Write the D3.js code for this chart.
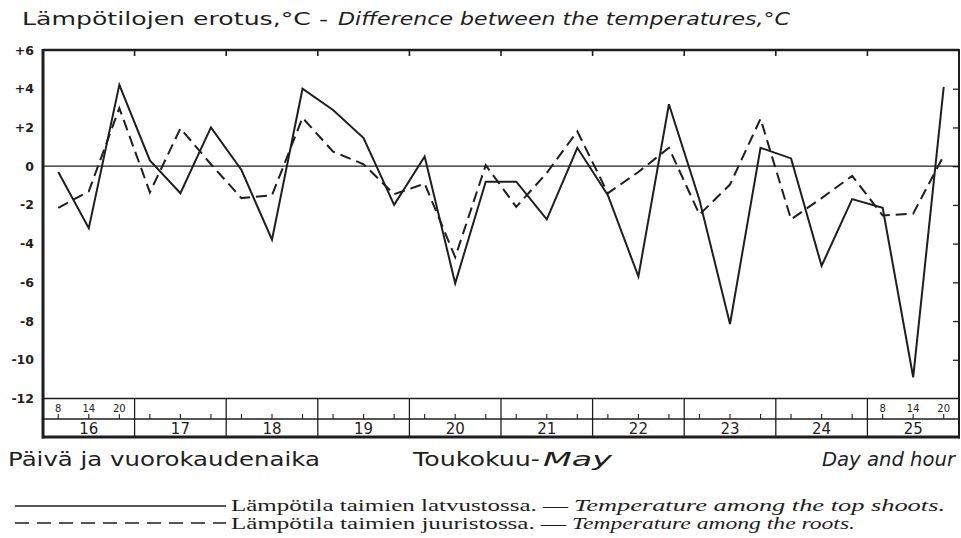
<!DOCTYPE html>
<html><head><meta charset="utf-8">
<script src="https://cdn.jsdelivr.net/npm/d3@7"></script>
<style>body{margin:0;background:#fff}svg{display:block}</style>
</head><body>
<svg id="c" width="961" height="538"></svg>
<script>
const days = ["16","17","18","19","20","21","22","23","24","25"];
const hours = ["8","14","20"];
const yTicks = [6,4,2,0,-2,-4,-6,-8,-10,-12];
const yTickLabels = ["+6","+4","+2","0","-2","-4","-6","-8","-10","-12"];
// Temperature among the top shoots (solid)
const topShoots = [-0.3,-3.2,4.2, 0.3,-1.4,2.0, -0.2,-3.8,4.0, 2.9,1.45,-2.0, 0.5,-6.05,-0.8, -0.8,-2.75,0.95, -1.5,-5.7,3.2, -1.75,-8.15,0.95, 0.4,-5.15,-1.7, -2.15,-10.9,4.1];
// Temperature among the roots (dashed)
const roots = [-2.15,-1.3,3.0, -1.35,1.95,0.1, -1.65,-1.5,2.5, 0.75,0.1,-1.45, -0.9,-4.7,0.05, -2.1,-0.35,1.8, -1.4,-0.3,0.95, -2.5,-0.95,2.45, -2.75,-1.65,-0.5, -2.55,-2.45,0.55];

const ink = "#1e1e1e";
const svg = d3.select("#c");
const L = 43, R = 959, T = 50, B = 398.5, Hmid = 419, Bot = 437;

const keys = [];
days.forEach(d => hours.forEach(h => keys.push(d + "-" + h)));
const xDay = d3.scaleBand().domain(days).range([L, R]);
const x = d3.scalePoint().domain(keys).range([L, R]).padding(0.5);
const y = d3.scaleLinear().domain([-12, 6]).range([B, T]);

// zero line
svg.append("line").attr("x1", L).attr("x2", R).attr("y1", y(0)).attr("y2", y(0))
  .attr("stroke", ink).attr("stroke-width", 1.3);

// Y axis labels
const yAxis = d3.axisLeft(y).tickValues(yTicks).tickSize(0).tickPadding(9)
  .tickFormat((d, i) => yTickLabels[i]);
const ya = svg.append("g").attr("transform", `translate(${L},0)`).call(yAxis);
ya.select(".domain").remove();
ya.selectAll("text").attr("font-family", "DejaVu Sans").attr("font-size", 12.5)
  .attr("font-weight", "bold").attr("fill", ink);

// right-side ticks
const yr = d3.axisLeft(y).tickValues(yTicks.filter(v => v > -12 && v < 6)).tickSize(6).tickFormat("");
const yrg = svg.append("g").attr("transform", `translate(${R},0)`).call(yr);
yrg.select(".domain").remove();
yrg.selectAll("line").attr("stroke", ink).attr("stroke-width", 1.3);

// top ticks at day boundaries
const topT = days.slice(1).map(d => xDay(d));
svg.selectAll(".tt").data(topT).enter().append("line")
  .attr("x1", d => d).attr("x2", d => d).attr("y1", T).attr("y2", T + 6)
  .attr("stroke", ink).attr("stroke-width", 1.6);

// bottom band: horizontal lines
svg.append("line").attr("x1", L).attr("x2", R).attr("y1", B).attr("y2", B).attr("stroke", ink).attr("stroke-width", 1.5);
svg.append("line").attr("x1", L).attr("x2", R).attr("y1", Hmid).attr("y2", Hmid).attr("stroke", ink).attr("stroke-width", 1.5);
// day boundaries
svg.selectAll(".db").data(days.slice(1)).enter().append("line")
  .attr("x1", d => xDay(d)).attr("x2", d => xDay(d)).attr("y1", B).attr("y2", Bot)
  .attr("stroke", ink).attr("stroke-width", 1.3);
// hour ticks
svg.selectAll(".ht").data(keys).enter().append("line")
  .attr("x1", d => x(d)).attr("x2", d => x(d)).attr("y1", Hmid - 5).attr("y2", Hmid)
  .attr("stroke", ink).attr("stroke-width", 1.1);
// hour labels on first and last day
const labelled = keys.filter(k => k.startsWith(days[0] + "-") || k.startsWith(days[days.length - 1] + "-"));
svg.selectAll(".hl").data(labelled).enter().append("text")
  .attr("x", d => x(d)).attr("y", Hmid - 7).attr("text-anchor", "middle")
  .attr("font-family", "DejaVu Sans").attr("font-size", 10).attr("fill", ink)
  .text(d => d.split("-")[1]);
// day labels
svg.selectAll(".dl").data(days).enter().append("text")
  .attr("x", d => xDay(d) + xDay.bandwidth() / 2).attr("y", Bot - 3).attr("text-anchor", "middle")
  .attr("font-family", "DejaVu Sans").attr("font-size", 15).attr("fill", ink)
  .text(d => d);

// frame
svg.append("line").attr("x1", L).attr("x2", R).attr("y1", T).attr("y2", T).attr("stroke", ink).attr("stroke-width", 2.4);
svg.append("line").attr("x1", L - 1).attr("x2", R + 1).attr("y1", Bot).attr("y2", Bot).attr("stroke", ink).attr("stroke-width", 3);
svg.append("line").attr("x1", L).attr("x2", L).attr("y1", T - 1).attr("y2", Bot + 1.5).attr("stroke", ink).attr("stroke-width", 3);
svg.append("line").attr("x1", R).attr("x2", R).attr("y1", T - 1).attr("y2", Bot + 1.5).attr("stroke", ink).attr("stroke-width", 2);

// series
const line = d3.line().x((d, i) => x(keys[i])).y(d => y(d));
svg.append("path").datum(roots).attr("d", line).attr("fill", "none")
  .attr("stroke", ink).attr("stroke-width", 2).attr("stroke-dasharray", "11,6").attr("stroke-linejoin", "miter");
svg.append("path").datum(topShoots).attr("d", line).attr("fill", "none")
  .attr("stroke", ink).attr("stroke-width", 2).attr("stroke-linejoin", "miter");

// texts
function txt(s, x0, x1, yb, size, family, italic) {
  svg.append("text").attr("x", x0).attr("y", yb).attr("font-family", family)
    .attr("font-size", size).attr("font-style", italic ? "italic" : "normal").attr("fill", ink)
    .attr("textLength", x1 - x0).attr("lengthAdjust", "spacingAndGlyphs").text(s);
}
const hand = "DejaVu Sans";
txt("Lämpötilojen erotus,°C -", 22, 328, 25, 18, hand, false);
txt("Difference between the temperatures,°C", 338, 790, 25, 17, hand, true);
txt("Päivä ja vuorokaudenaika", 8, 320, 466, 19, hand, false);
txt("Toukokuu-", 413, 540, 466, 19, hand, false);
txt("May", 543, 612, 466, 19, hand, true);
txt("Day and hour", 822, 955, 466, 19, hand, true);

// legend
const serif = "Liberation Serif";
svg.append("line").attr("x1", 15).attr("x2", 226).attr("y1", 506).attr("y2", 506).attr("stroke", ink).attr("stroke-width", 1.3);
svg.append("line").attr("x1", 15).attr("x2", 226).attr("y1", 523).attr("y2", 523).attr("stroke", ink).attr("stroke-width", 1.3).attr("stroke-dasharray", "14,8");
txt("Lämpötila taimien latvustossa. —", 231, 568, 511, 16, serif, false);
txt("Temperature among the top shoots.", 574, 945, 511, 16, serif, true);
txt("Lämpötila taimien juuristossa. —", 231, 566, 529, 16, serif, false);
txt("Temperature among the roots.", 572, 855, 529, 16, serif, true);
</script>
</body></html>
